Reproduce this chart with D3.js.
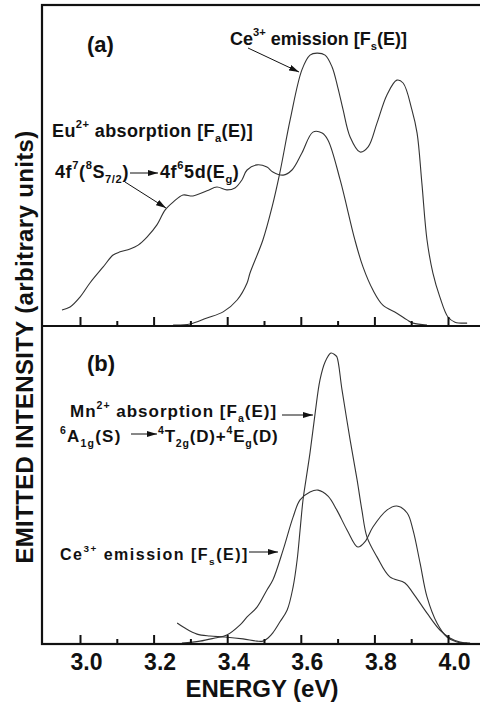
<!DOCTYPE html>
<html>
<head>
<meta charset="utf-8">
<script src="https://cdn.jsdelivr.net/npm/d3@7"></script>
<style>
  body { margin: 0; background: #fff; }
  text { font-family: "Liberation Sans", Arial, sans-serif; font-weight: bold; fill: #111; }
</style>
</head>
<body>
<div id="chart"></div>
<script>
// energies (eV) and intensities (arbitrary units, 0-100 of panel height)
const euE = [2.951, 2.973, 3.000, 3.027, 3.063, 3.090, 3.109, 3.136, 3.158, 3.182, 3.209, 3.231, 3.253, 3.280, 3.307, 3.345, 3.372, 3.399, 3.421, 3.440, 3.454, 3.481, 3.508, 3.524, 3.552, 3.576, 3.603, 3.633, 3.658, 3.674, 3.707, 3.747, 3.769, 3.796, 3.823, 3.861, 3.889, 3.905, 3.943];
const euI = [5.0, 5.9, 9.0, 13.4, 18.4, 22.1, 23.1, 24.0, 25.2, 27.7, 31.5, 36.1, 38.6, 40.8, 40.5, 42.1, 43.3, 42.4, 43.0, 45.5, 48.6, 50.2, 49.5, 48.0, 47.0, 48.6, 53.9, 60.4, 60.1, 57.9, 45.5, 26.8, 18.4, 11.2, 6.5, 4.0, 1.9, 0.9, 0.3];

const ceaE = [3.253, 3.299, 3.345, 3.389, 3.427, 3.454, 3.462, 3.497, 3.522, 3.543, 3.571, 3.603, 3.625, 3.644, 3.666, 3.685, 3.701, 3.715, 3.734, 3.761, 3.783, 3.807, 3.834, 3.861, 3.878, 3.902, 3.916, 3.929, 3.943, 3.959, 3.978, 4.000, 4.019, 4.052];
const ceaI = [0.3, 0.6, 2.5, 4.4, 8.1, 13.4, 16.5, 26.8, 37.1, 47.7, 64.2, 79.8, 84.4, 85.0, 84.4, 80.7, 74.1, 67.3, 58.9, 54.2, 55.8, 63.2, 72.0, 76.6, 75.7, 67.3, 60.1, 44.5, 26.8, 16.5, 9.0, 2.8, 1.2, 0.9];

const mnE = [3.264, 3.285, 3.318, 3.353, 3.394, 3.443, 3.481, 3.497, 3.511, 3.524, 3.543, 3.563, 3.579, 3.590, 3.598, 3.606, 3.614, 3.625, 3.639, 3.652, 3.666, 3.682, 3.693, 3.698, 3.712, 3.734, 3.753, 3.766, 3.780, 3.807, 3.842, 3.883, 3.905, 3.943, 3.978, 4.005, 4.033, 4.060];
const mnI = [6.6, 5.0, 3.1, 2.5, 2.2, 1.6, 0.9, 0.9, 1.9, 3.5, 6.9, 10.7, 17.9, 26.4, 35.8, 45.3, 51.6, 60.1, 72.6, 83.0, 88.7, 91.5, 90.9, 90.3, 79.9, 64.2, 51.6, 42.1, 33.6, 27.4, 21.1, 19.2, 16.0, 9.7, 4.4, 1.9, 0.6, 0.3];

const cebE = [3.277, 3.326, 3.367, 3.399, 3.435, 3.454, 3.481, 3.508, 3.524, 3.552, 3.579, 3.598, 3.625, 3.647, 3.674, 3.698, 3.726, 3.755, 3.774, 3.796, 3.834, 3.861, 3.889, 3.905, 3.924, 3.943, 3.970, 3.997, 4.024, 4.052];
const cebI = [0.3, 0.9, 1.9, 2.8, 6.0, 8.5, 11.6, 17.0, 20.1, 29.6, 39.9, 45.3, 47.8, 48.4, 46.5, 42.1, 35.8, 30.5, 32.1, 36.8, 42.1, 43.4, 41.2, 35.8, 25.5, 14.8, 6.6, 2.2, 0.6, 0.3];

const majorTicks = [3.0, 3.2, 3.4, 3.6, 3.8, 4.0];
const minorTicks = [3.1, 3.3, 3.5, 3.7, 3.9];

const width = 480, height = 708;
const frame = {left: 42, right: 482, top: 5, mid: 326, bottom: 644};

const svg = d3.select("#chart").append("svg")
    .attr("width", width).attr("height", height);

// arrow head
svg.append("defs").append("marker")
    .attr("id", "head")
    .attr("markerUnits", "userSpaceOnUse")
    .attr("viewBox", "0 0 10 6")
    .attr("refX", 10).attr("refY", 3)
    .attr("markerWidth", 10).attr("markerHeight", 6)
    .attr("orient", "auto")
  .append("path").attr("d", "M0,0L10,3L0,6Z").attr("fill", "#111");

const x = d3.scaleLinear().domain([3.0, 4.0]).range([80, 448]);
const yA = d3.scaleLinear().domain([0, 100]).range([frame.mid, frame.top]);
const yB = d3.scaleLinear().domain([0, 100]).range([frame.bottom, frame.mid]);

const zip = (es, is) => es.map((e, i) => ({e: e, v: is[i]}));

//Curves
const drawCurve = (es, is, y) => {
    const line = d3.line().x(d => x(d.e)).y(d => y(d.v)).curve(d3.curveCatmullRom);
    svg.append("path")
        .datum(zip(es, is))
        .attr("fill", "none")
        .attr("stroke", "#333")
        .attr("stroke-width", 1.1)
        .attr("d", line);
};
drawCurve(euE, euI, yA);
drawCurve(ceaE, ceaI, yA);
drawCurve(mnE, mnI, yB);
drawCurve(cebE, cebI, yB);

//Frame
svg.append("rect")
    .attr("x", frame.left).attr("y", frame.top)
    .attr("width", frame.right - frame.left).attr("height", frame.bottom - frame.top)
    .attr("fill", "none").attr("stroke", "#111").attr("stroke-width", 2.2);
svg.append("line")
    .attr("x1", frame.left).attr("x2", frame.right)
    .attr("y1", frame.mid).attr("y2", frame.mid)
    .attr("stroke", "#111").attr("stroke-width", 2.2);

//Ticks on both panels
[frame.mid, frame.bottom].forEach(yy => {
    const gMaj = svg.append("g").attr("transform", `translate(0,${yy})`)
        .call(d3.axisTop(x).tickValues(majorTicks).tickSize(9).tickFormat(""));
    const gMin = svg.append("g").attr("transform", `translate(0,${yy})`)
        .call(d3.axisTop(x).tickValues(minorTicks).tickSize(5).tickFormat(""));
    [gMaj, gMin].forEach(g => {
        g.select(".domain").remove();
        g.selectAll("line").attr("stroke", "#111").attr("stroke-width", 2);
    });
});

//Tick labels
const gLab = svg.append("g").attr("transform", `translate(0,${frame.bottom})`)
    .call(d3.axisBottom(x).tickValues(majorTicks).tickSize(0).tickPadding(10).tickFormat(d3.format(".1f")));
gLab.select(".domain").remove();
gLab.selectAll("text")
    .attr("dx", 6)
    .attr("font-family", "Liberation Sans, Arial, sans-serif")
    .attr("font-weight", "bold")
    .attr("font-size", 23)
    .attr("fill", "#111");

//Axis titles
svg.append("text")
    .attr("x", 262).attr("y", 697)
    .attr("text-anchor", "middle")
    .attr("font-size", 24)
    .text("ENERGY (eV)");

svg.append("text")
    .attr("transform", "translate(33,347) rotate(-90)")
    .attr("text-anchor", "middle")
    .attr("font-size", 24)
    .attr("letter-spacing", 0.35)
    .text("EMITTED INTENSITY (arbitrary units)");

//Rich text helper: segments of [text, kind]
const rich = (px, py, segs, size, spacing) => {
    const t = svg.append("text").attr("x", px).attr("y", py)
        .attr("font-size", size)
        .attr("letter-spacing", spacing || 0);
    let cur = 0;
    segs.forEach(([s, k]) => {
        const off = k === "sup" ? -0.48 * size : k === "sub" ? 0.3 * size : 0;
        t.append("tspan")
            .attr("dy", off - cur)
            .attr("font-size", k ? size * 0.62 : size)
            .text(s);
        cur = off;
    });
    return t;
};
const arrow = (x1, y1, x2, y2) => svg.append("line")
    .attr("x1", x1).attr("y1", y1).attr("x2", x2).attr("y2", y2)
    .attr("stroke", "#111").attr("stroke-width", 1)
    .attr("marker-end", "url(#head)");

//Panel (a)
svg.append("text").attr("x", 87).attr("y", 52).attr("font-size", 22).text("(a)");
rich(230, 45, [["Ce"], ["3+", "sup"], [" emission [F"], ["s", "sub"], ["(E)]"]], 18);
arrow(248, 48, 299, 72);
rich(52, 137, [["Eu"], ["2+", "sup"], [" absorption [F"], ["a", "sub"], ["(E)]"]], 18, 0.4);
rich(55, 178, [["4f"], ["7", "sup"], ["("], ["8", "sup"], ["S"], ["7/2", "sub"], [")"]], 18, 0.6);
arrow(130, 173, 158, 173);
rich(160, 178, [["4f"], ["6", "sup"], ["5d(E"], ["g", "sub"], [")"]], 18, 0.6);
arrow(125, 182, 166, 208);

//Panel (b)
svg.append("text").attr("x", 87).attr("y", 371).attr("font-size", 22).text("(b)");
rich(70, 417, [["Mn"], ["2+", "sup"], [" absorption [F"], ["a", "sub"], ["(E)]"]], 17, 1.0);
arrow(282, 415, 313, 415);
rich(60, 442, [["6", "sup"], ["A"], ["1g", "sub"], ["(S)"]], 17, 1.2);
arrow(131, 434, 157, 434);
rich(158, 442, [["4", "sup"], ["T"], ["2g", "sub"], ["(D)+"], ["4", "sup"], ["E"], ["g", "sub"], ["(D)"]], 17, 0.8);
rich(60, 560, [["Ce"], ["3+", "sup"], [" emission [F"], ["s", "sub"], ["(E)]"]], 16, 1.5);
arrow(249, 552, 278, 552);
</script>
</body>
</html>
